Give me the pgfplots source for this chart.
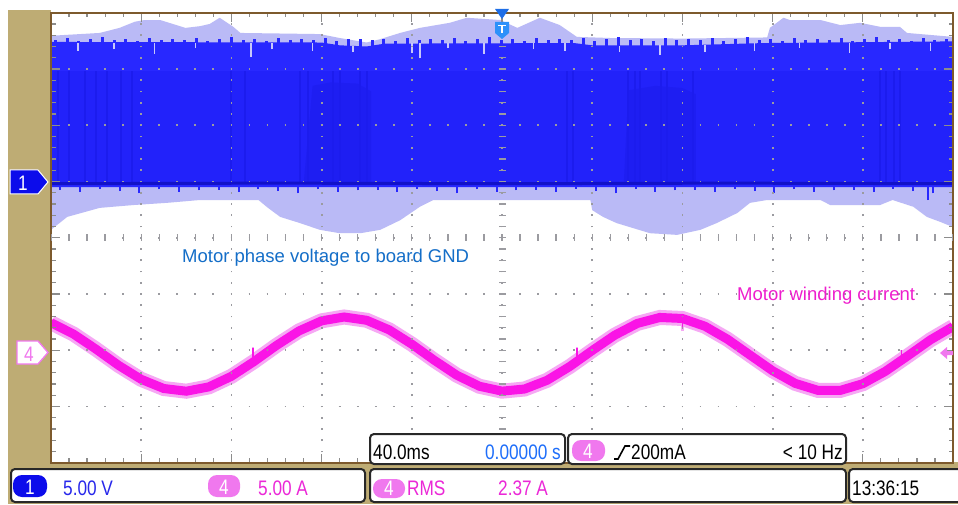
\documentclass[border=0pt]{standalone}
\usepackage{pgfplots}
\pgfplotsset{compat=1.18}
\usepackage{graphicx}
\usepackage{fontspec}
\setmainfont{Liberation Sans}
\definecolor{scopetan}{RGB}{190,172,116}
\definecolor{framebrown}{RGB}{125,90,45}
\definecolor{gridgray}{RGB}{155,155,160}
\definecolor{tickgray}{RGB}{140,140,140}
\definecolor{lav}{RGB}{186,186,246}
\definecolor{lavspike}{RGB}{200,200,250}
\definecolor{blueband}{RGB}{40,40,255}
\definecolor{bluelow}{RGB}{34,34,250}
\definecolor{bluedark}{RGB}{28,28,238}
\definecolor{bluedome}{RGB}{30,30,242}
\definecolor{blueline}{RGB}{18,18,200}
\definecolor{pinkcore}{RGB}{250,20,230}
\definecolor{pinkhalo}{RGB}{246,168,244}
\definecolor{pinkpill}{RGB}{240,120,238}
\definecolor{pinktext}{RGB}{235,40,215}
\definecolor{labblue}{RGB}{20,110,200}
\definecolor{labpink}{RGB}{238,30,205}
\definecolor{ch1blue}{RGB}{12,12,235}
\definecolor{valblue}{RGB}{40,40,235}
\definecolor{tbblue}{RGB}{30,110,250}
\definecolor{trigdark}{RGB}{30,110,230}
\definecolor{trigblue}{RGB}{45,145,250}
\definecolor{boxborder}{RGB}{40,40,40}
\newcommand{\osc}[2][black]{\scalebox{0.82}[1]{\fontsize{21}{21}\selectfont\color{#1}#2}}
\pgfplotsset{spikes/.style n args={2}{draw=none, no markers, forget plot,
  error bars/.cd, y dir=plus, y explicit, error mark=none,
  error bar style={draw=#1, line width=#2}}}
\begin{document}
\begin{tikzpicture}
\path[use as bounding box] (0,0) rectangle (958pt,504pt);
\begin{scope}[x=1pt,y=-1pt,shift={(0pt,504pt)}]
\fill[scopetan] (8,10) rectangle (51,504);
\fill[scopetan] (8,462) rectangle (958,504);
\end{scope}
\begin{axis}[
  width=902pt, height=450pt, scale only axis,
  at={(51pt,41.3pt)}, anchor=south west,
  xmin=-5, xmax=5, ymin=-4, ymax=4,
  axis background/.style={fill=white},
  axis on top,
  axis line style={draw=framebrown, line width=2.2pt},
  xtick={-5,...,5}, ytick={-4,...,4},
  minor x tick num=4, minor y tick num=4,
  xticklabels={}, yticklabels={},
  tick style={draw=tickgray, line width=1.2pt},
  major tick length=9pt, minor tick length=4.5pt,
  xmajorgrids, ymajorgrids,
  x grid style={draw=gridgray, line width=1.8pt, dash pattern=on 1.8pt off 9.45pt, dash phase=0.9pt},
  y grid style={draw=gridgray, line width=1.8pt, dash pattern=on 1.8pt off 16.24pt, dash phase=0.9pt},
]
% CH1 persistence envelope
\addplot[fill=lav, draw=none, forget plot] coordinates {
(-5,3.59) (-4.46,3.64) (-4.24,3.73) (-4.07,3.84) (-3.96,3.87) (-3.79,3.87) (-3.51,3.73) (-3.35,3.76)
(-3.24,3.80) (-3.13,3.91) (-2.98,3.75) (-2.90,3.64) (-2.02,3.62) (-1.80,3.55) (-1.50,3.47) (-1.35,3.53)
(-1.13,3.64) (-0.91,3.73) (-0.58,3.82) (-0.39,3.91) (-0.02,3.87) (0.17,3.73) (0.42,3.91) (0.64,3.78)
(0.83,3.57) (1.2,3.55) (2.0,3.54) (2.94,3.56) (2.97,3.73) (3.12,3.91) (3.19,3.87) (3.53,3.87)
(3.75,3.78) (3.97,3.82) (4.19,3.75) (4.41,3.75) (4.49,3.64) (5,3.57)
(5,0.19) (4.86,0.28) (4.71,0.37) (4.56,0.55) (4.33,0.67) (4.19,0.58) (3.64,0.58) (3.53,0.67)
(2.94,0.67) (2.75,0.62) (2.61,0.44) (2.38,0.26) (2.20,0.14) (1.94,0.05) (1.64,0.08) (1.27,0.26)
(1.12,0.37) (1.00,0.49) (0.98,0.67) (-0.76,0.67) (-0.91,0.55) (-1.13,0.31) (-1.35,0.14) (-1.57,0.08)
(-1.80,0.08) (-2.02,0.14) (-2.24,0.26) (-2.46,0.37) (-2.61,0.55) (-2.70,0.67) (-3.35,0.67) (-3.71,0.62)
(-4.09,0.58) (-4.46,0.53) (-4.82,0.37) (-5,0.14)
} -- cycle;
% CH1 PWM band
\addplot[fill=blueband, draw=none, forget plot] coordinates {
(-5,3.48) (-2.0,3.47) (-1.8,3.42) (-1.5,3.40) (-1.3,3.45) (0.8,3.46) (1.0,3.42) (2.0,3.42) (2.9,3.46) (5,3.49)
(5,0.90) (-5,0.90)
} -- cycle;
\addplot[fill=bluelow, draw=none, forget plot] coordinates {(-5,2.97) (5,2.97) (5,0.95) (-5,0.95)} -- cycle;
\addplot[fill=bluedome, draw=none, forget plot] coordinates {(-2.2,0.95) (-2.1,2.70) (-1.9,2.76) (-1.6,2.74) (-1.45,2.60) (-1.45,0.95)} -- cycle;
\addplot[fill=bluedome, draw=none, forget plot] coordinates {(1.35,0.95) (1.4,2.62) (1.7,2.70) (2.0,2.66) (2.15,2.55) (2.15,0.95)} -- cycle;
% darker streaks
\addplot[spikes={bluedark}{2pt}] table[x index=0, y index=1, y error index=2] {
-4.92 0.97 2.0
-4.80 0.97 2.0
-4.62 0.97 2.0
-4.50 0.97 2.0
-4.38 0.97 2.0
-4.22 0.97 2.0
-4.10 0.97 2.0
-3.00 0.97 2.0
-2.85 0.97 2.0
-2.24 0.97 2.0
-2.15 0.97 2.0
-1.87 0.97 2.0
-1.80 0.97 2.0
-1.57 0.97 2.0
-1.50 0.97 2.0
0.72 0.97 2.0
0.79 0.97 2.0
1.40 0.97 2.0
1.47 0.97 2.0
1.53 0.97 2.0
1.76 0.97 2.0
1.83 0.97 2.0
2.12 0.97 2.0
4.19 0.97 2.0
4.26 0.97 2.0
4.35 0.97 2.0
4.41 0.97 2.0
};
% blue spikes at the top edge
\addplot[spikes={blueband}{3pt}] table[x index=0, y index=1, y error index=2] {
-4.95 3.40 0.12
-4.82 3.40 0.15
-4.69 3.40 0.10
-4.56 3.40 0.13
-4.43 3.40 0.16
-4.30 3.40 0.11
-4.17 3.40 0.14
-4.04 3.40 0.09
-3.91 3.40 0.15
-3.78 3.40 0.12
-3.65 3.40 0.13
-3.52 3.40 0.12
-3.39 3.40 0.15
-3.26 3.40 0.10
-3.13 3.40 0.13
-3.00 3.40 0.16
-2.87 3.40 0.11
-2.74 3.40 0.14
-2.61 3.40 0.09
-2.48 3.40 0.15
-2.35 3.40 0.12
-2.22 3.40 0.13
-2.09 3.40 0.12
-1.96 3.40 0.15
-1.83 3.40 0.10
-1.70 3.40 0.13
-1.57 3.40 0.14
-1.44 3.40 0.11
-1.31 3.40 0.14
-1.18 3.40 0.09
-1.05 3.40 0.15
-0.92 3.40 0.12
-0.79 3.40 0.13
-0.66 3.40 0.12
-0.53 3.40 0.15
-0.40 3.40 0.10
-0.27 3.40 0.13
-0.14 3.40 0.16
-0.01 3.40 0.11
0.12 3.40 0.14
0.25 3.40 0.09
0.38 3.40 0.15
0.51 3.40 0.12
0.64 3.40 0.13
0.77 3.40 0.12
0.90 3.40 0.15
1.03 3.40 0.10
1.16 3.40 0.13
1.29 3.40 0.16
1.42 3.40 0.11
1.55 3.40 0.14
1.68 3.40 0.09
1.81 3.40 0.15
1.94 3.40 0.12
2.07 3.40 0.13
2.20 3.40 0.12
2.33 3.40 0.15
2.46 3.40 0.10
2.59 3.40 0.13
2.72 3.40 0.16
2.85 3.40 0.11
2.98 3.40 0.14
3.11 3.40 0.09
3.24 3.40 0.15
3.37 3.40 0.12
3.50 3.40 0.13
3.63 3.40 0.12
3.76 3.40 0.15
3.89 3.40 0.10
4.02 3.40 0.13
4.15 3.40 0.16
4.28 3.40 0.11
4.41 3.40 0.14
4.54 3.40 0.09
4.67 3.40 0.15
4.80 3.40 0.12
4.93 3.40 0.13
};
% light spikes into the band
\addplot[spikes={lavspike}{1.5pt}] table[x index=0, y index=1, y error index=2] {
-4.70 3.32 0.15
-4.30 3.35 0.12
-3.85 3.27 0.20
-3.40 3.37 0.10
-2.78 3.22 0.25
-2.55 3.35 0.12
-2.10 3.32 0.15
-1.65 3.30 0.10
-1.00 3.29 0.18
-0.91 3.19 0.28
-0.60 3.37 0.10
-0.20 3.27 0.20
0.35 3.35 0.12
0.70 3.32 0.15
1.30 3.30 0.10
1.75 3.25 0.17
2.25 3.30 0.12
2.80 3.32 0.15
3.30 3.37 0.10
3.85 3.29 0.18
4.30 3.35 0.12
4.75 3.32 0.15
};
% blue spikes below the band
\addplot[spikes={blueband}{2pt}] table[x index=0, y index=1, y error index=2] {
-4.90 0.85 0.07
-4.68 0.81 0.11
-4.46 0.87 0.05
-4.24 0.83 0.09
-4.02 0.79 0.13
-3.80 0.86 0.06
-3.58 0.82 0.10
-3.36 0.84 0.08
-3.14 0.85 0.07
-2.92 0.81 0.11
-2.70 0.87 0.05
-2.48 0.83 0.09
-2.26 0.79 0.13
-2.04 0.86 0.06
-1.82 0.82 0.10
-1.60 0.84 0.08
-1.38 0.85 0.07
-1.16 0.81 0.11
-0.94 0.87 0.05
-0.72 0.83 0.09
-0.50 0.79 0.13
-0.28 0.86 0.06
-0.06 0.82 0.10
0.16 0.84 0.08
0.38 0.85 0.07
0.60 0.81 0.11
0.82 0.87 0.05
1.04 0.83 0.09
1.26 0.79 0.13
1.48 0.86 0.06
1.70 0.82 0.10
1.92 0.84 0.08
2.14 0.85 0.07
2.36 0.81 0.11
2.58 0.87 0.05
2.80 0.83 0.09
3.02 0.79 0.13
3.24 0.86 0.06
3.46 0.82 0.10
3.68 0.84 0.08
3.90 0.85 0.07
4.12 0.81 0.11
4.34 0.87 0.05
4.56 0.83 0.09
4.72 0.67 0.25
4.78 0.79 0.13
};
% 0 V line of CH1
\addplot[blueline, line width=3pt, forget plot] coordinates {(-5,0.96) (-2.5,0.97) (0,0.96) (2.5,0.97) (5,0.96)};
% CH4 motor current
\addplot[pinkhalo, line width=15pt, forget plot] coordinates {
(-5.0,-1.511) (-4.75,-1.714) (-4.5,-1.983) (-4.25,-2.270) (-4.0,-2.518) (-3.75,-2.681) (-3.5,-2.729)
(-3.25,-2.652) (-3.0,-2.464) (-2.75,-2.202) (-2.5,-1.915) (-2.25,-1.657) (-2.0,-1.478) (-1.75,-1.410)
(-1.5,-1.468) (-1.25,-1.639) (-1.0,-1.893) (-0.75,-2.180) (-0.5,-2.446) (-0.25,-2.641) (0.0,-2.728)
(0.25,-2.690) (0.5,-2.535) (0.75,-2.291) (1.0,-2.006) (1.25,-1.733) (1.5,-1.524) (1.75,-1.418)
(2.0,-1.436) (2.25,-1.574) (2.5,-1.805) (2.75,-2.087) (3.0,-2.366) (3.25,-2.589) (3.5,-2.713)
(3.75,-2.715) (4.0,-2.596) (4.25,-2.376) (4.5,-2.099) (4.75,-1.816) (5.0,-1.581)
};
\addplot[spikes={pinkhalo}{2.5pt}] table[x index=0, y index=1, y error index=2] {
-2.76 -2.23 0.28
0.83 -2.23 0.28
2.00 -1.66 0.22
4.43 -2.23 0.24
};
\addplot[pinkcore, line width=9pt, forget plot] coordinates {
(-5.0,-1.511) (-4.75,-1.714) (-4.5,-1.983) (-4.25,-2.270) (-4.0,-2.518) (-3.75,-2.681) (-3.5,-2.729)
(-3.25,-2.652) (-3.0,-2.464) (-2.75,-2.202) (-2.5,-1.915) (-2.25,-1.657) (-2.0,-1.478) (-1.75,-1.410)
(-1.5,-1.468) (-1.25,-1.639) (-1.0,-1.893) (-0.75,-2.180) (-0.5,-2.446) (-0.25,-2.641) (0.0,-2.728)
(0.25,-2.690) (0.5,-2.535) (0.75,-2.291) (1.0,-2.006) (1.25,-1.733) (1.5,-1.524) (1.75,-1.418)
(2.0,-1.436) (2.25,-1.574) (2.5,-1.805) (2.75,-2.087) (3.0,-2.366) (3.25,-2.589) (3.5,-2.713)
(3.75,-2.715) (4.0,-2.596) (4.25,-2.376) (4.5,-2.099) (4.75,-1.816) (5.0,-1.581)
};
\addplot[spikes={pinkcore}{1.5pt}] table[x index=0, y index=1, y error index=2] {
-2.76 -2.20 0.24
0.83 -2.20 0.24
2.00 -1.62 0.18
4.43 -2.20 0.20
};
\end{axis}
\begin{scope}[x=1pt,y=-1pt,shift={(0pt,504pt)}]
% centre cross ticks
\draw[gridgray, line width=7pt, dash pattern=on 1.3pt off 9.95pt, dash phase=0.65pt] (502,462.7) -- (502,12.7);
\draw[gridgray, line width=7pt, dash pattern=on 1.3pt off 16.74pt, dash phase=0.65pt] (51,237.7) -- (953,237.7);
% texts on the screen
\node[anchor=base west, inner sep=0, text=labblue, font=\fontsize{18.5}{18.5}\selectfont] at (182,262) {Motor phase voltage to board GND};
\node[anchor=base west, inner sep=0, text=labpink, font=\fontsize{18.5}{18.5}\selectfont] at (737,300) {Motor winding current};
% channel markers
\filldraw[fill=ch1blue, draw=white, line width=1pt] (10,170) -- (38,170) -- (48,182) -- (38,194) -- (10,194) -- cycle;
\node[anchor=base, inner sep=0] at (23,191) {\osc[white]{1}};
\filldraw[fill=white, draw=pinkpill, line width=1.3pt] (17,341) -- (38,341) -- (48,352.5) -- (38,364) -- (17,364) -- cycle;
\node[anchor=base, inner sep=0] at (29,361) {\osc[pinkpill]{4}};
% trigger position marker
\fill[trigdark] (495,9) -- (509,9) -- (502,19) -- cycle;
\fill[trigblue] (495,22) -- (509,22) -- (509,33) -- (502,39) -- (495,33) -- cycle;
\draw[white, line width=1.6pt] (498,25.5) -- (506,25.5) (502,25.5) -- (502,33);
% trigger level marker
\fill[pinkpill] (940,353) -- (947,347) -- (947,351) -- (953,351) -- (953,355) -- (947,355) -- (947,359) -- cycle;
% readout boxes
\draw[boxborder, line width=2pt, fill=white, rounded corners=4pt] (11,469) rectangle (365,502);
\draw[boxborder, line width=2pt, fill=white, rounded corners=4pt] (370,434) rectangle (565,464);
\draw[boxborder, line width=2pt, fill=white, rounded corners=4pt] (568,434) rectangle (846,464);
\draw[boxborder, line width=2pt, fill=white, rounded corners=4pt] (370,469) rectangle (846,502);
\draw[boxborder, line width=2pt, fill=white, rounded corners=4pt] (849,469) rectangle (962,502);
% box A
\fill[ch1blue, rounded corners=9pt] (13,475) rectangle (47,497);
\node[anchor=base, inner sep=0] at (30,494) {\osc[white]{1}};
\node[anchor=base west, inner sep=0] at (63,495) {\osc[valblue]{5.00 V}};
\fill[pinkpill, rounded corners=9pt] (208,475) rectangle (240,497);
\node[anchor=base, inner sep=0] at (224,494) {\osc[white]{4}};
\node[anchor=base west, inner sep=0] at (258,495) {\osc[pinktext]{5.00 A}};
% box B
\node[anchor=base west, inner sep=0] at (373,459) {\osc{40.0ms}};
\node[anchor=base east, inner sep=0] at (561,459) {\osc[tbblue]{0.00000 s}};
% box C
\fill[pinkpill, rounded corners=9pt] (572,440) rectangle (605,461);
\node[anchor=base, inner sep=0] at (588,458) {\osc[white]{4}};
\draw[black, line width=1.6pt] (614,459) -- (618,459) -- (625,446) -- (630,446);
\node[anchor=base west, inner sep=0] at (631,459) {\osc{200mA}};
\node[anchor=base east, inner sep=0] at (843,459) {\osc{< 10 Hz}};
% box D
\fill[pinkpill, rounded corners=9pt] (373,479) rectangle (405,498);
\node[anchor=base, inner sep=0] at (389,495) {\osc[white]{4}};
\node[anchor=base west, inner sep=0] at (407,495) {\osc[pinktext]{RMS}};
\node[anchor=base west, inner sep=0] at (498,495) {\osc[pinktext]{2.37 A}};
% box E
\node[anchor=base west, inner sep=0] at (852,495) {\osc{13:36:15}};
\end{scope}
\end{tikzpicture}
\end{document}
